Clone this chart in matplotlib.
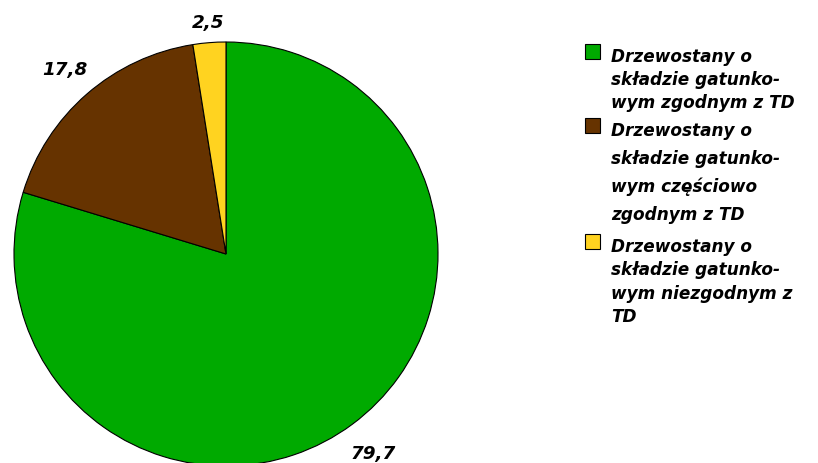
import matplotlib
matplotlib.use("Agg")
import matplotlib.pyplot as plt
from matplotlib.patches import Rectangle

# ---- data ----
categories = [
    "Drzewostany o\nskładzie gatunko-\nwym zgodnym z TD",
    "Drzewostany o\nskładzie gatunko-\nwym częściowo\nzgodnym z TD",
    "Drzewostany o\nskładzie gatunko-\nwym niezgodnym z\nTD",
]
values = [79.7, 17.8, 2.5]
value_labels = ["79,7", "17,8", "2,5"]
colors = ["#00AA00", "#663300", "#FFD320"]

# ---- layout (pixels) ----
W, H = 818, 464
cx, cy, R = 226, 255, 212
label_dist = [1.17, 1.16, 1.10]
font = dict(family="DejaVu Sans", weight="bold", style="italic")

fig = plt.figure(figsize=(W / 100, H / 100), dpi=100)
ax = fig.add_axes([(cx - R) / W, (H - cy - R) / H, 2 * R / W, 2 * R / H])

wedges, texts = ax.pie(
    values, labels=value_labels, colors=colors, startangle=90,
    counterclock=False, radius=1, labeldistance=1.0,
    wedgeprops=dict(edgecolor="black", linewidth=0.8),
    textprops=dict(fontsize=13.2, color="black", **font),
)
for t, d in zip(texts, label_dist):
    x, y = t.get_position()
    t.set_position((x * d, y * d))
    t.set_ha("center")
    t.set_va("center")
ax.set_xlim(-1, 1)
ax.set_ylim(-1, 1)
ax.set_aspect("equal")
ax.axis("off")

# ---- legend (drawn manually to match reference) ----
fs = 12.2
first_baselines = [62, 136, 252]
line_steps = [23.2, 28.0, 23.3]
for lab, col, base, step in zip(categories, colors, first_baselines, line_steps):
    top_sq = base - 17.5
    fig.patches.append(Rectangle((585 / W, 1 - (top_sq + 15) / H), 15 / W, 15 / H,
                                 transform=fig.transFigure, facecolor=col,
                                 edgecolor="black", linewidth=0.8))
    for i, line in enumerate(lab.split("\n")):
        fig.text(611 / W, 1 - (base + i * step) / H, line, ha="left",
                 va="baseline", fontsize=fs, color="black", **font)

fig.savefig("out.png", dpi=100)
